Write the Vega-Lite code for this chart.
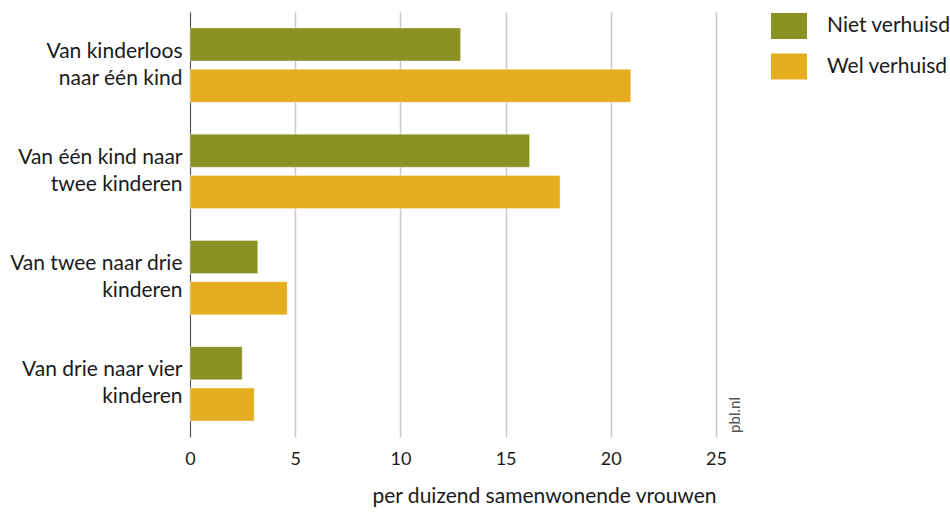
{
  "$schema": "https://vega.github.io/schema/vega-lite/v6.json",
  "width": 526,
  "height": 425,
  "autosize": {"type": "none"},
  "padding": {"left": 190, "top": 12, "right": 234, "bottom": 77},
  "background": "white",
  "config": {
    "view": {"stroke": null},
    "font": "Lato",
    "axis": {"labelFont": "Lato", "titleFont": "Lato"},
    "legend": {"labelFont": "Lato"}
  },
  "datasets": {
    "bars": [
      {"overgang": "Van kinderloos naar één kind", "groep": "Niet verhuisd", "waarde": 12.86},
      {"overgang": "Van kinderloos naar één kind", "groep": "Wel verhuisd", "waarde": 20.95},
      {"overgang": "Van één kind naar twee kinderen", "groep": "Niet verhuisd", "waarde": 16.14},
      {"overgang": "Van één kind naar twee kinderen", "groep": "Wel verhuisd", "waarde": 17.59},
      {"overgang": "Van twee naar drie kinderen", "groep": "Niet verhuisd", "waarde": 3.22},
      {"overgang": "Van twee naar drie kinderen", "groep": "Wel verhuisd", "waarde": 4.62},
      {"overgang": "Van drie naar vier kinderen", "groep": "Niet verhuisd", "waarde": 2.48},
      {"overgang": "Van drie naar vier kinderen", "groep": "Wel verhuisd", "waarde": 3.05}
    ],
    "bron": [
      {"tekst": "pbl.nl", "x": 25, "overgang": "Van drie naar vier kinderen"}
    ]
  },
  "layer": [
    {
      "data": {"name": "bars"},
      "mark": {"type": "bar", "strokeWidth": 1, "strokeOpacity": 0.35, "stroke": "#ffffff"},
      "encoding": {
        "y": {
          "field": "overgang",
          "type": "nominal",
          "sort": ["Van kinderloos naar één kind", "Van één kind naar twee kinderen", "Van twee naar drie kinderen", "Van drie naar vier kinderen"],
          "scale": {"domain": ["Van kinderloos naar één kind", "Van één kind naar twee kinderen", "Van twee naar drie kinderen", "Van drie naar vier kinderen"], "paddingInner": 0.3, "paddingOuter": 0.15},
          "axis": {
            "title": null,
            "ticks": false,
            "domain": true,
            "domainColor": "#555555",
            "domainWidth": 1,
            "labelPadding": 8,
            "labelFontSize": 21,
            "labelColor": "#1a1a1a",
            "labelLineHeight": 27,
            "labelOffset": -13.5,
            "labelLimit": 200,
            "labelExpr": "datum.label == 'Van kinderloos naar één kind' ? ['Van kinderloos', 'naar één kind'] : datum.label == 'Van één kind naar twee kinderen' ? ['Van één kind naar', 'twee kinderen'] : datum.label == 'Van twee naar drie kinderen' ? ['Van twee naar drie', 'kinderen'] : ['Van drie naar vier', 'kinderen']"
          }
        },
        "yOffset": {
          "field": "groep",
          "type": "nominal",
          "scale": {"paddingInner": 0.2, "paddingOuter": 0}
        },
        "x": {
          "field": "waarde",
          "type": "quantitative",
          "scale": {"domain": [0, 25], "nice": false},
          "axis": {
            "title": "per duizend samenwonende vrouwen",
            "titleFontSize": 21,
            "titleFontWeight": "normal",
            "titleColor": "#1a1a1a",
            "titleAnchor": "end",
            "titlePadding": 17,
            "values": [0, 5, 10, 15, 20, 25],
            "labelFontSize": 18,
            "labelColor": "#1a1a1a",
            "labelPadding": 13,
            "labelFlush": false,
            "ticks": false,
            "domain": false,
            "grid": true,
            "gridColor": "#c8c8c8",
            "gridWidth": 1.5
          }
        },
        "color": {
          "field": "groep",
          "type": "nominal",
          "scale": {"domain": ["Niet verhuisd", "Wel verhuisd"], "range": ["#8b9123", "#e6ad20"]},
          "legend": {
            "title": null,
            "orient": "none",
            "legendX": 581,
            "legendY": -4,
            "symbolType": "M-1,-0.72L1,-0.72L1,0.72L-1,0.72Z",
            "symbolSize": 1296,
            "symbolStrokeWidth": 0,
            "labelFontSize": 21,
            "labelColor": "#1a1a1a",
            "labelOffset": 20,
            "rowPadding": 9.5
          }
        }
      }
    },
    {
      "data": {"name": "bron"},
      "mark": {"type": "text", "angle": 270, "align": "left", "baseline": "middle", "dx": -49, "dy": 19, "fontSize": 15, "color": "#555555"},
      "encoding": {
        "x": {"field": "x", "type": "quantitative"},
        "y": {"field": "overgang", "type": "nominal", "sort": ["Van kinderloos naar één kind", "Van één kind naar twee kinderen", "Van twee naar drie kinderen", "Van drie naar vier kinderen"]},
        "text": {"field": "tekst"}
      }
    }
  ]
}
